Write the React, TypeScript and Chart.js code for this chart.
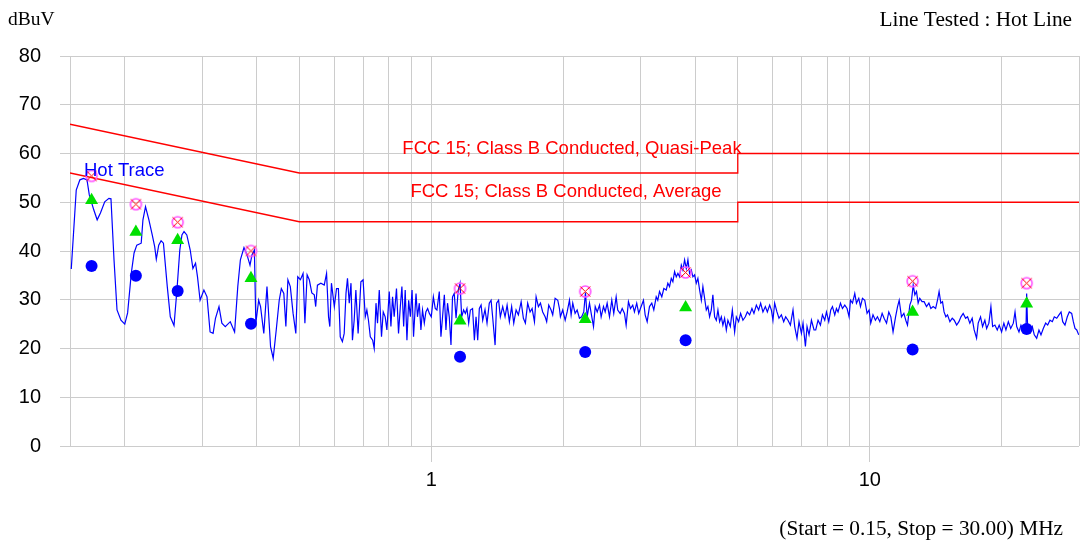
import React, { useEffect, useRef } from 'react';
import { Chart, registerables } from 'chart.js';
Chart.register(...registerables);

// Hot line trace: [frequency MHz, level dBuV]
const hotTrace: [number, number][] = [
  [0.151, 36.3], [0.155, 52.5], [0.158, 54.6], [0.161, 54.9], [0.164, 54.6], [0.166, 51.5], [0.170, 48.4], [0.173, 46.4],
  [0.176, 47.8], [0.180, 50.1], [0.184, 50.8], [0.186, 50.7], [0.189, 38.2], [0.192, 27.9], [0.196, 25.8], [0.200, 25.0],
  [0.203, 27.3], [0.207, 35.5], [0.210, 39.6], [0.213, 41.2], [0.218, 41.6], [0.220, 46.4], [0.223, 49.1], [0.227, 46.4],
  [0.231, 43.3], [0.234, 40.9], [0.236, 38.3], [0.239, 41.2], [0.242, 42.1], [0.245, 41.6], [0.250, 32.7], [0.254, 26.5],
  [0.259, 24.7], [0.263, 32.0], [0.267, 40.2], [0.270, 43.3], [0.273, 44.0], [0.277, 43.3], [0.282, 40.2], [0.286, 36.4],
  [0.290, 37.5], [0.293, 34.7], [0.297, 29.9], [0.303, 32.0], [0.308, 30.6], [0.313, 23.4], [0.318, 23.1], [0.322, 26.2],
  [0.328, 28.6], [0.333, 25.2], [0.339, 24.5], [0.348, 25.5], [0.356, 23.4], [0.362, 32.7], [0.367, 38.2], [0.374, 40.7],
  [0.380, 39.2], [0.386, 37.1], [0.390, 39.2], [0.395, 40.2], [0.398, 25.2], [0.404, 29.9], [0.408, 28.6], [0.415, 23.1],
  [0.422, 32.7], [0.430, 20.4], [0.436, 18.0], [0.443, 23.8], [0.450, 29.9], [0.455, 32.3], [0.461, 31.3], [0.466, 24.5],
  [0.471, 34.1], [0.477, 32.7], [0.484, 27.2], [0.491, 23.1], [0.496, 34.7], [0.503, 34.1], [0.510, 35.4], [0.515, 25.2],
  [0.521, 35.1], [0.527, 34.1], [0.534, 31.4], [0.541, 31.0], [0.545, 28.6], [0.550, 33.0], [0.560, 33.4], [0.570, 33.0],
  [0.577, 35.4], [0.583, 26.5], [0.587, 24.5], [0.592, 33.4], [0.601, 28.6], [0.608, 32.3], [0.614, 32.3], [0.620, 22.4],
  [0.627, 21.4], [0.633, 23.1], [0.639, 31.3], [0.644, 34.4], [0.650, 29.3], [0.656, 33.4], [0.661, 21.7], [0.667, 25.8],
  [0.673, 32.0], [0.681, 23.1], [0.691, 33.7], [0.699, 34.1], [0.707, 26.5], [0.713, 27.9], [0.719, 25.8], [0.726, 22.4],
  [0.735, 21.7], [0.741, 20.0], [0.748, 29.3], [0.754, 25.2], [0.761, 32.0], [0.770, 22.4], [0.777, 27.5], [0.785, 26.5],
  [0.792, 23.8], [0.802, 31.7], [0.809, 24.5], [0.816, 30.6], [0.823, 26.5], [0.833, 32.3], [0.842, 23.1], [0.850, 28.6],
  [0.857, 32.7], [0.865, 24.5], [0.872, 32.0], [0.880, 21.7], [0.888, 29.9], [0.896, 26.5], [0.904, 32.0], [0.911, 22.4],
  [0.923, 31.3], [0.930, 26.5], [0.939, 29.3], [0.947, 23.8], [0.955, 27.9], [0.964, 25.2], [0.972, 27.5], [0.981, 28.2],
  [0.990, 27.2], [1.000, 26.5], [1.011, 30.6], [1.021, 28.2], [1.030, 27.9], [1.043, 31.7], [1.052, 22.4], [1.061, 26.5],
  [1.071, 31.0], [1.080, 23.8], [1.089, 29.3], [1.099, 26.5], [1.109, 20.7], [1.118, 30.6], [1.128, 31.3], [1.139, 26.2],
  [1.152, 32.0], [1.163, 33.4], [1.173, 26.5], [1.185, 27.9], [1.196, 27.2], [1.206, 28.2], [1.217, 25.2], [1.228, 27.9],
  [1.242, 28.2], [1.254, 21.7], [1.265, 26.5], [1.276, 21.7], [1.287, 28.2], [1.299, 28.9], [1.310, 25.8], [1.326, 28.0],
  [1.340, 25.2], [1.356, 29.3], [1.369, 29.9], [1.380, 26.5], [1.398, 20.7], [1.409, 29.3], [1.424, 29.9], [1.437, 26.5],
  [1.455, 28.6], [1.473, 26.5], [1.489, 28.9], [1.507, 25.5], [1.525, 28.6], [1.542, 25.2], [1.561, 27.9], [1.580, 26.9],
  [1.603, 29.6], [1.622, 26.2], [1.639, 25.2], [1.659, 29.3], [1.680, 27.5], [1.698, 28.2], [1.719, 25.5], [1.734, 30.6],
  [1.755, 28.6], [1.774, 29.3], [1.795, 27.5], [1.818, 26.5], [1.833, 25.5], [1.853, 28.9], [1.876, 27.9], [1.892, 26.9],
  [1.916, 30.3], [1.943, 29.9], [1.960, 28.2], [1.970, 26.5], [1.994, 27.9], [2.020, 25.8], [2.041, 27.5], [2.066, 29.9],
  [2.084, 26.9], [2.102, 29.3], [2.128, 27.2], [2.151, 27.9], [2.177, 26.2], [2.203, 26.5], [2.227, 27.5], [2.247, 31.5],
  [2.267, 26.5], [2.295, 29.3], [2.323, 26.5], [2.344, 24.5], [2.365, 28.6], [2.390, 27.5], [2.419, 28.9], [2.440, 26.5],
  [2.470, 28.6], [2.492, 27.5], [2.518, 29.3], [2.549, 26.5], [2.580, 29.9], [2.607, 27.2], [2.640, 30.6], [2.662, 27.9],
  [2.696, 27.2], [2.725, 28.2], [2.758, 27.2], [2.782, 24.8], [2.816, 29.6], [2.846, 28.2], [2.880, 28.9], [2.906, 27.5],
  [2.941, 29.3], [2.972, 27.2], [3.010, 28.6], [3.047, 29.9], [3.074, 26.9], [3.107, 25.5], [3.145, 28.6], [3.183, 29.3],
  [3.217, 27.9], [3.258, 30.6], [3.285, 29.9], [3.315, 31.7], [3.355, 30.6], [3.391, 32.3], [3.434, 32.0], [3.463, 33.4],
  [3.494, 32.7], [3.526, 34.4], [3.556, 33.7], [3.588, 35.8], [3.620, 34.7], [3.651, 35.4], [3.684, 34.7], [3.717, 37.1],
  [3.748, 36.1], [3.782, 38.2], [3.816, 36.4], [3.848, 38.2], [3.882, 35.4], [3.917, 36.1], [3.950, 34.7], [3.986, 35.1],
  [4.021, 33.4], [4.055, 34.4], [4.092, 32.0], [4.129, 29.9], [4.163, 32.7], [4.201, 30.3], [4.238, 27.9], [4.274, 28.6],
  [4.312, 26.5], [4.351, 27.9], [4.387, 31.0], [4.427, 26.5], [4.467, 25.8], [4.505, 27.9], [4.545, 25.5], [4.586, 26.5],
  [4.624, 24.8], [4.666, 26.2], [4.708, 23.8], [4.747, 25.8], [4.808, 24.5], [4.859, 27.9], [4.918, 23.4], [4.962, 26.5],
  [5.022, 25.5], [5.075, 27.2], [5.137, 25.8], [5.202, 26.5], [5.257, 27.5], [5.321, 26.9], [5.386, 28.2], [5.443, 27.2],
  [5.512, 28.9], [5.579, 27.9], [5.638, 29.3], [5.706, 27.5], [5.779, 28.6], [5.840, 27.5], [5.911, 28.9], [5.964, 27.9],
  [6.014, 25.8], [6.068, 29.3], [6.142, 27.5], [6.207, 26.2], [6.286, 26.9], [6.363, 25.5], [6.430, 26.5], [6.508, 25.8],
  [6.591, 24.8], [6.682, 27.9], [6.742, 24.5], [6.824, 22.1], [6.896, 25.5], [6.984, 23.1], [7.043, 25.2], [7.132, 20.4],
  [7.193, 24.5], [7.269, 22.8], [7.361, 25.8], [7.462, 23.8], [7.529, 23.8], [7.621, 25.8], [7.717, 24.8], [7.799, 26.9],
  [7.894, 25.8], [7.965, 27.5], [8.062, 25.5], [8.147, 27.9], [8.220, 28.6], [8.320, 26.9], [8.394, 28.2], [8.465, 27.5],
  [8.573, 29.3], [8.663, 28.2], [8.769, 28.9], [8.876, 28.2], [8.970, 26.5], [9.036, 29.9], [9.132, 29.3], [9.242, 31.3],
  [9.325, 29.3], [9.438, 30.3], [9.523, 28.6], [9.623, 30.3], [9.740, 29.9], [9.859, 27.2], [9.963, 27.9], [10.05, 25.2],
  [10.17, 26.9], [10.30, 25.8], [10.41, 26.5], [10.54, 25.5], [10.67, 27.2], [10.78, 26.2], [10.92, 25.2], [11.05, 27.5],
  [11.17, 26.5], [11.30, 23.4], [11.45, 26.5], [11.57, 28.6], [11.67, 29.9], [11.81, 26.5], [11.96, 27.2], [12.08, 25.8],
  [12.19, 24.8], [12.34, 28.9], [12.45, 29.9], [12.56, 33.0], [12.67, 31.0], [12.78, 31.7], [12.89, 29.3], [13.00, 30.3],
  [13.16, 29.6], [13.30, 29.6], [13.47, 28.6], [13.64, 29.3], [13.78, 28.2], [13.95, 28.6], [14.13, 28.2], [14.27, 29.9],
  [14.39, 31.7], [14.52, 29.3], [14.65, 29.6], [14.77, 27.5], [14.91, 26.5], [15.04, 26.9], [15.23, 25.5], [15.42, 26.2],
  [15.58, 25.8], [15.78, 24.8], [15.97, 25.5], [16.14, 26.5], [16.33, 27.2], [16.54, 26.2], [16.71, 26.5], [16.91, 25.2],
  [17.12, 26.2], [17.30, 23.8], [17.52, 22.1], [17.67, 25.2], [17.89, 26.5], [18.08, 24.5], [18.30, 25.8], [18.47, 24.1],
  [18.69, 25.2], [18.89, 28.6], [19.06, 24.5], [19.29, 24.8], [19.53, 23.8], [19.73, 24.8], [19.98, 23.4], [20.22, 25.2],
  [20.44, 23.8], [20.70, 25.5], [20.96, 24.1], [21.25, 25.2], [21.44, 27.5], [21.63, 24.5], [21.89, 23.4], [22.12, 24.8],
  [22.39, 23.8], [22.71, 23.8], [22.79, 31.3], [22.91, 24.1], [23.19, 23.4], [23.48, 24.5], [23.72, 22.8], [24.02, 22.1],
  [24.31, 23.8], [24.57, 22.8], [24.87, 24.1], [25.18, 25.2], [25.45, 24.8], [25.76, 25.8], [26.08, 25.5], [26.35, 26.5],
  [26.69, 26.2], [27.01, 26.9], [27.30, 27.5], [27.54, 25.5], [27.87, 24.8], [28.21, 26.5], [28.51, 27.5], [28.87, 27.2],
  [29.12, 25.5], [29.38, 24.1], [29.65, 23.8], [29.96, 22.8],
];

// Measured points
const markerFreqs = [0.168, 0.212, 0.264, 0.388, 1.163, 2.244, 3.802, 12.52, 22.79];
const peakLevels = [55.4, 49.6, 45.9, 40.0, 32.3, 31.7, 35.6, 33.8, 33.4];
const quasiPeakLevels = [50.4, 43.9, 42.2, 34.4, 25.7, 26.0, 28.4, 27.5, 29.2];
const averageLevels = [36.9, 34.9, 31.8, 25.1, 18.3, 19.3, 21.7, 19.8, 24.0];

// FCC 15 Class B limits
const limitFreqs = [0.15, 0.5, 5, 5, 30];
const qpLimitLevels = [66, 56, 56, 60, 60];
const avgLimitLevels = [56, 46, 46, 50, 50];

// Axis
const xTickValues = [0.15, 0.2, 0.3, 0.4, 0.5, 0.6, 0.7, 0.8, 0.9, 1, 2, 3, 4, 5, 6, 7, 8, 9, 10, 20, 30];
const xLabelled = [1, 10];

const SANS = '"Liberation Sans", Arial, sans-serif';
const SERIF = '"Liberation Serif", "Times New Roman", serif';
const GRID = '#cccccc';

function makePeakMarker(): HTMLCanvasElement {
  const c = document.createElement('canvas');
  c.width = 15;
  c.height = 15;
  const g = c.getContext('2d')!;
  g.strokeStyle = '#ff55ff';
  g.lineWidth = 1.6;
  g.beginPath();
  g.arc(7.5, 7.5, 5.5, 0, Math.PI * 2);
  g.stroke();
  g.strokeStyle = '#ff0000';
  g.lineWidth = 1;
  g.beginPath();
  g.moveTo(2.5, 2.5);
  g.lineTo(12.5, 12.5);
  g.moveTo(12.5, 2.5);
  g.lineTo(2.5, 12.5);
  g.stroke();
  return c;
}

const textPlugin = {
  id: 'texts',
  afterDatasetsDraw(chart: any) {
    const ctx = chart.ctx;
    ctx.save();
    ctx.textBaseline = 'alphabetic';
    ctx.fillStyle = '#000';
    ctx.font = `19.5px ${SERIF}`;
    ctx.textAlign = 'left';
    ctx.fillText('dBuV', 8, 25);
    ctx.font = `21.3px ${SERIF}`;
    ctx.textAlign = 'right';
    ctx.fillText('Line Tested : Hot Line', 1072, 26);
    ctx.fillText('(Start = 0.15, Stop = 30.00) MHz', 1063, 535);

    ctx.font = `18.5px ${SANS}`;
    ctx.fillStyle = '#0000ff';
    ctx.textAlign = 'left';
    ctx.fillText('Hot Trace', 84, 176);
    ctx.fillStyle = '#ff0000';
    ctx.textAlign = 'center';
    ctx.fillText('FCC 15; Class B Conducted, Quasi-Peak', 572, 154);
    ctx.fillText('FCC 15; Class B Conducted, Average', 566, 197);
    ctx.restore();
  },
};

export default function App() {
  const ref = useRef<HTMLCanvasElement>(null);
  useEffect(() => {
    if (!ref.current) return;
    const peakImg = makePeakMarker();
    const pts = (xs: number[], ys: number[]) => xs.map((x, i) => ({ x, y: ys[i] }));
    const chart = new Chart(ref.current, {
      type: 'line',
      data: {
        datasets: [
          {
            label: 'Peak',
            data: pts(markerFreqs, peakLevels),
            showLine: false,
            pointStyle: peakImg as any,
            pointRadius: 7,
            order: 1,
          },
          {
            label: 'Quasi-Peak',
            data: pts(markerFreqs, quasiPeakLevels),
            showLine: false,
            pointStyle: 'triangle',
            pointRadius: 7.5,
            pointBackgroundColor: '#00e000',
            pointBorderColor: '#00e000',
            pointBorderWidth: 0,
            order: 2,
          },
          {
            label: 'Average',
            data: pts(markerFreqs, averageLevels),
            showLine: false,
            pointStyle: 'circle',
            pointRadius: 6,
            pointBackgroundColor: '#0000ff',
            pointBorderColor: '#0000ff',
            pointBorderWidth: 0,
            order: 3,
          },
          {
            label: 'QP Limit',
            data: pts(limitFreqs, qpLimitLevels),
            borderColor: '#ff0000',
            borderWidth: 1.3,
            pointRadius: 0,
            order: 4,
          },
          {
            label: 'AVG Limit',
            data: pts(limitFreqs, avgLimitLevels),
            borderColor: '#ff0000',
            borderWidth: 1.3,
            pointRadius: 0,
            order: 4,
          },
          {
            label: 'Hot Trace',
            data: hotTrace.map(([x, y]) => ({ x, y })),
            borderColor: '#0000ff',
            borderWidth: 1.2,
            pointRadius: 0,
            tension: 0,
            order: 5,
          },
        ],
      },
      options: {
        responsive: false,
        animation: false,
        events: [],
        layout: { autoPadding: false, padding: { top: 56, right: 2, left: 0, bottom: 0 } },
        plugins: { legend: { display: false }, tooltip: { enabled: false } },
        scales: {
          x: {
            type: 'logarithmic',
            min: 0.15,
            max: 30,
            afterBuildTicks: (s: any) => {
              s.ticks = xTickValues.map((v) => ({ value: v }));
            },
            afterFit: (s: any) => {
              s.height = 95;
              s.paddingLeft = 0;
              s.paddingRight = 0;
            },
            border: { display: false },
            grid: {
              color: GRID,
              lineWidth: 1,
              tickLength: 16,
              tickColor: (c: any) => (c.tick && xLabelled.includes(c.tick.value) ? GRID : 'rgba(0,0,0,0)'),
            },
            ticks: {
              autoSkip: false,
              maxRotation: 0,
              padding: 6,
              color: '#000',
              font: { family: SANS, size: 20 },
              callback: (v: any) => (xLabelled.includes(Number(v)) ? String(v) : ''),
            },
          },
          y: {
            min: 0,
            max: 80,
            afterFit: (s: any) => {
              s.width = 70;
            },
            border: { display: true, color: GRID },
            grid: { color: GRID, lineWidth: 1, tickLength: 10, tickColor: GRID },
            ticks: {
              stepSize: 10,
              padding: 19,
              color: '#000',
              font: { family: SANS, size: 20 },
            },
          },
        },
      },
      plugins: [textPlugin],
    });
    return () => chart.destroy();
  }, []);
  return (
    <div style={{ position: 'absolute', left: 0, top: 0, width: 1081, height: 541, background: '#fff' }}>
      <canvas ref={ref} width={1081} height={541} />
    </div>
  );
}
